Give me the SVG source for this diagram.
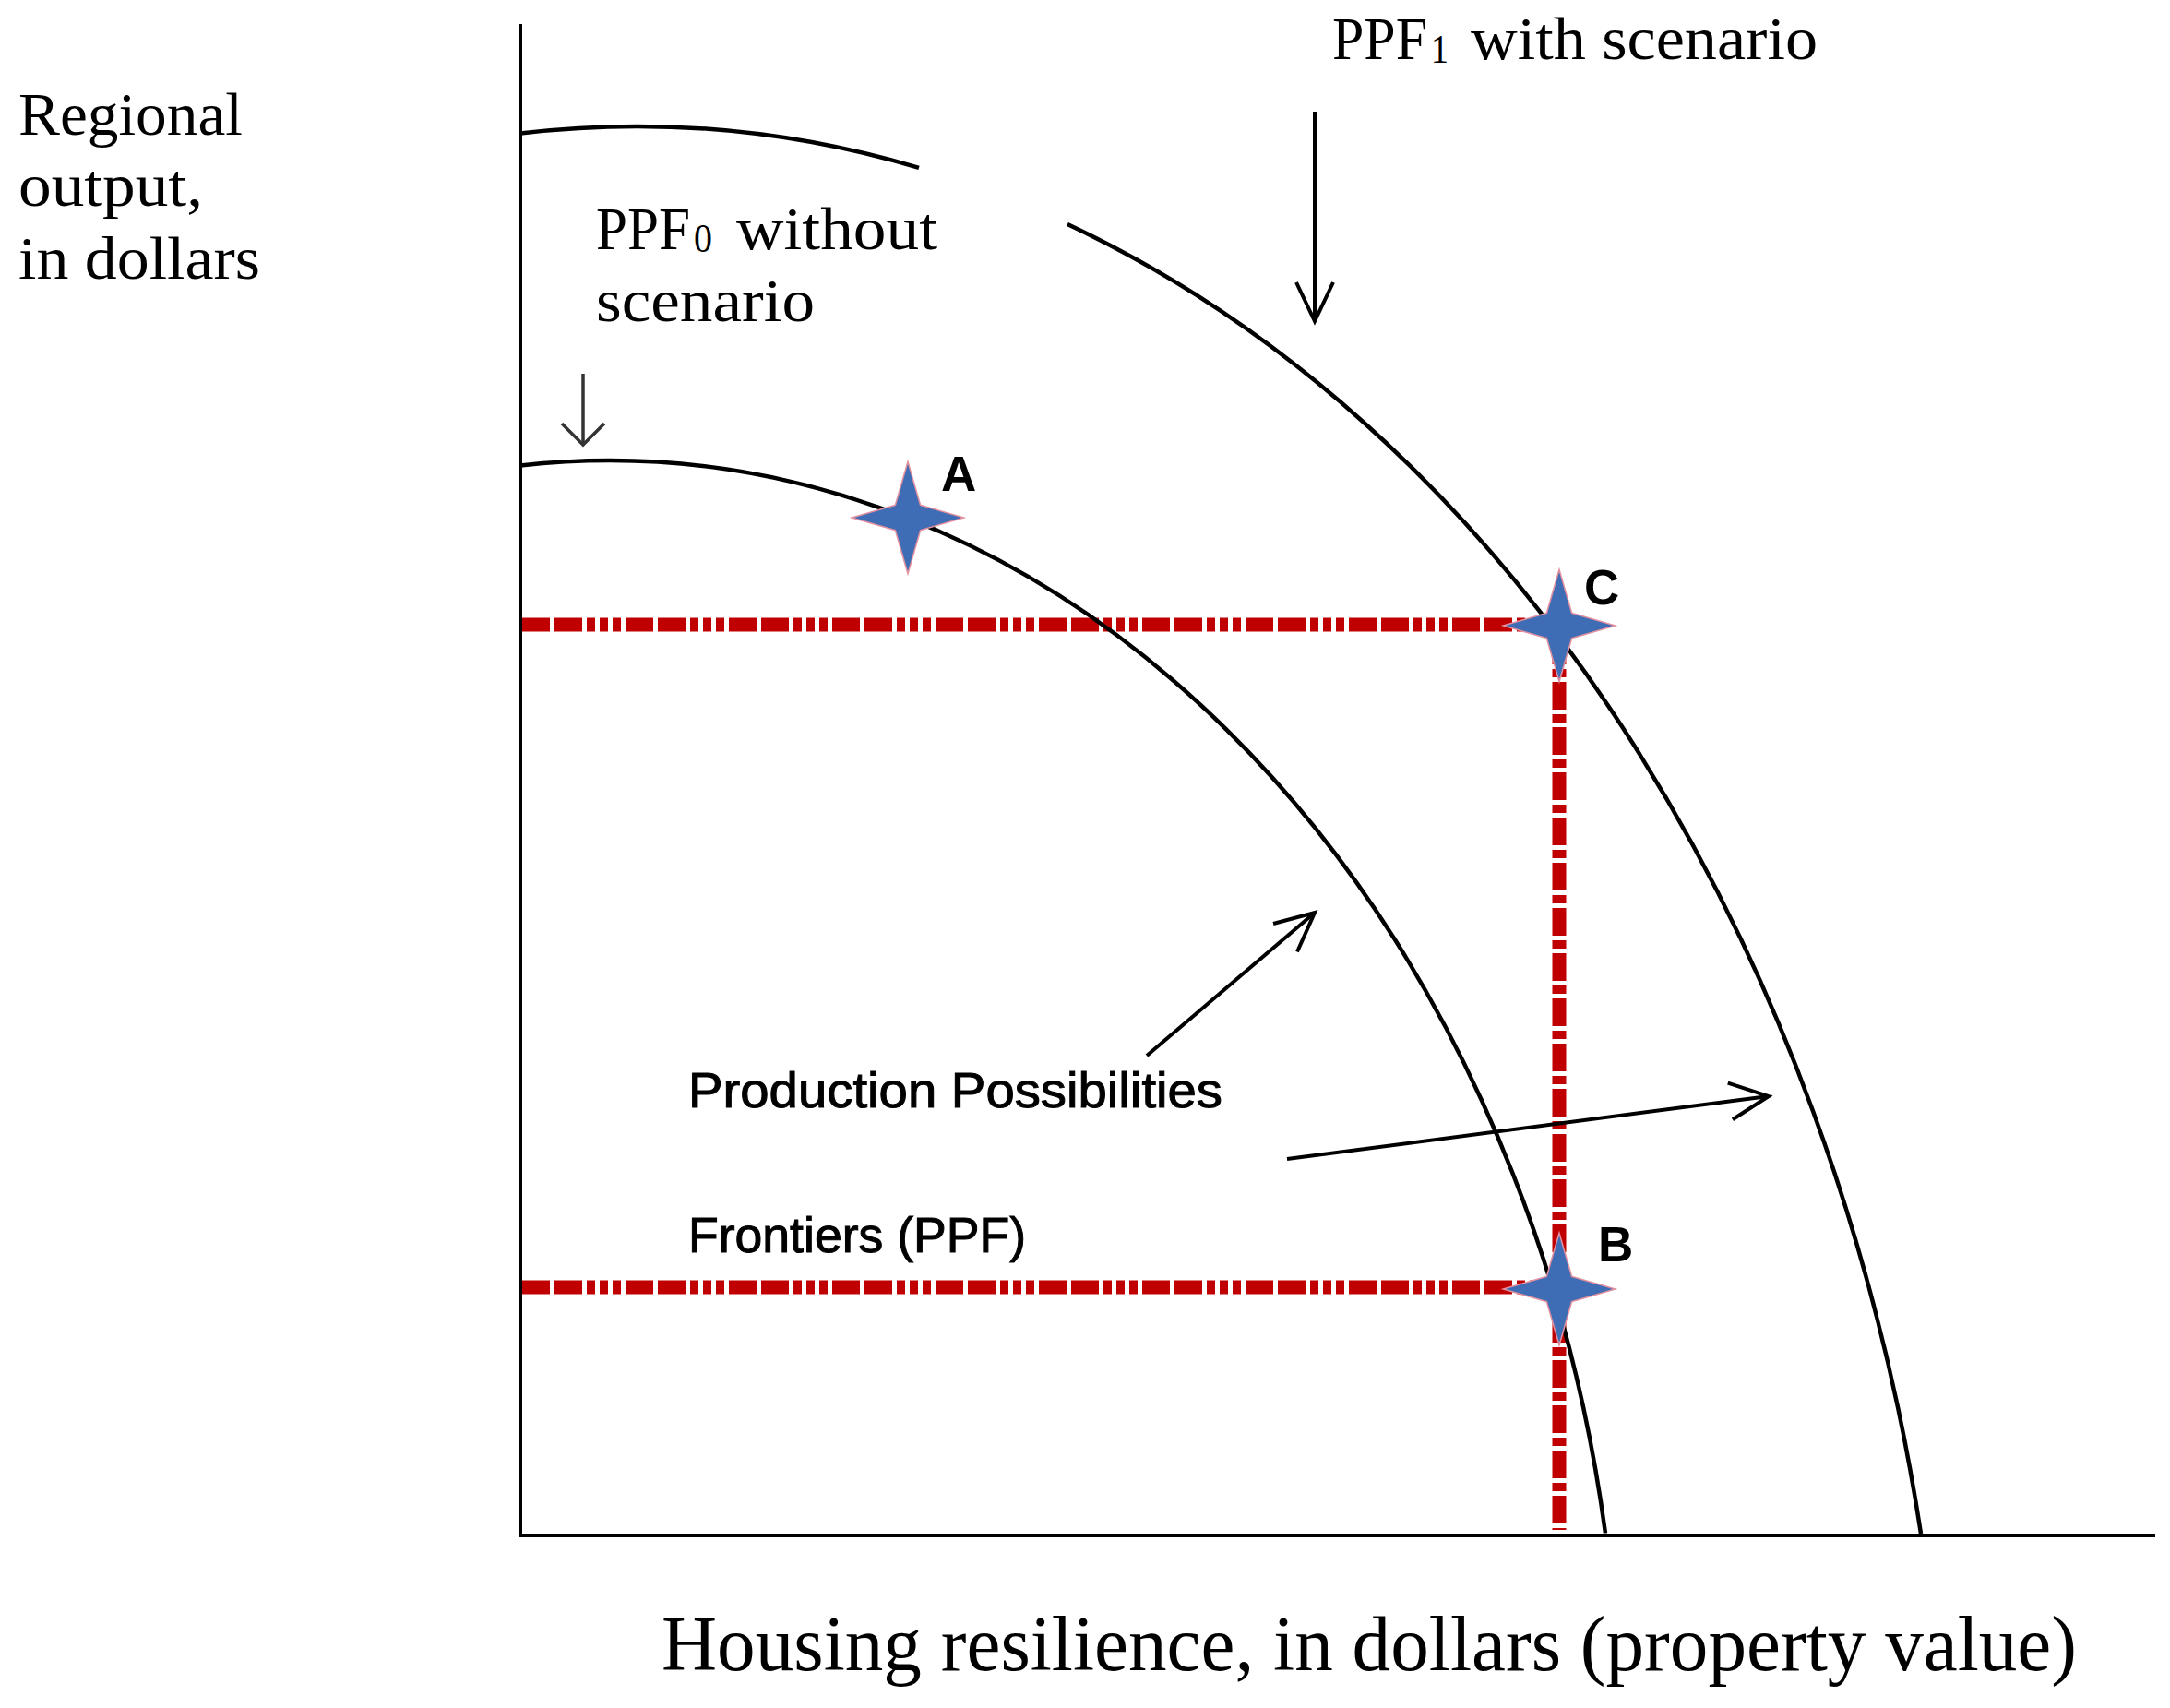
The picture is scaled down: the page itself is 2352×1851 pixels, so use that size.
<svg xmlns="http://www.w3.org/2000/svg" width="2352" height="1851" viewBox="0 0 2352 1851">
<style>
.serif{font-family:"Liberation Serif","Times New Roman",serif;fill:#000}
.sans{font-family:"Liberation Sans",Arial,sans-serif;fill:#000;stroke:#000;stroke-width:1}
.ax{stroke:#000;stroke-width:4;fill:none}
.curve{stroke:#000;stroke-width:4.5;fill:none}
.redh{stroke:#C00000;stroke-width:15;fill:none;stroke-dasharray:30 5 30 5 9 5 9 5 9 5}
.redv{stroke:#C00000;stroke-width:15;fill:none;stroke-dasharray:30 5 9 5}
.star{fill:#3E6DB5;stroke:#E2909F;stroke-width:3;paint-order:stroke;stroke-linejoin:miter}
.pt{font-family:"Liberation Sans",Arial,sans-serif;font-weight:bold;font-size:53px;fill:#000}
.arr{stroke:#000;stroke-width:4;fill:none}
</style>
<defs>
<marker id="ah" markerUnits="userSpaceOnUse" orient="auto" overflow="visible" markerWidth="1" markerHeight="1" refX="0" refY="0">
<path d="M-42,-20 L0,0 L-42,20" fill="none" stroke="#000" stroke-width="4"/>
</marker>
<marker id="ahs" markerUnits="userSpaceOnUse" orient="auto" overflow="visible" markerWidth="1" markerHeight="1" refX="0" refY="0">
<path d="M-23,-23 L0,0 L-23,23" fill="none" stroke="#333" stroke-width="3.5"/>
</marker>
<polygon id="star4" points="0,-58 13,-13 58,0 13,13 0,58 -13,13 -58,0 -13,-13"/>
</defs>
<rect width="2352" height="1851" fill="#fff"/>

<g id="axes">
<line class="ax" x1="564" y1="26" x2="564" y2="1666"/>
<line class="ax" x1="562" y1="1664" x2="2336" y2="1664"/>
</g>

<g id="guides">
<line class="redh" x1="566" y1="677" x2="1672" y2="677"/>
<line class="redh" x1="566" y1="1395" x2="1672" y2="1395"/>
<line class="redv" x1="1690" y1="690" x2="1690" y2="1658"/>
</g>

<g id="ppf0">
<path class="curve" d="M564,504.4 A1096,1401 0 0 1 1740,1661.5"/>
</g>

<g id="ppf1">
<path class="curve" d="M564,144.5 A1421.6,1913 0 0 1 996,181.9"/>
<path class="curve" d="M1157,243 A1421.6,1913 0 0 1 2082,1662"/>
</g>

<g id="point-A">
<use href="#star4" class="star" x="984" y="561"/>
<text class="pt" x="1020" y="532">A</text>
</g>
<g id="point-C">
<use href="#star4" class="star" x="1690" y="678"/>
<text class="pt" x="1717" y="655">C</text>
</g>
<g id="point-B">
<use href="#star4" class="star" x="1690" y="1397"/>
<text class="pt" x="1732" y="1367">B</text>
</g>

<g id="y-label">
<text class="serif" font-size="66" x="20" y="146" textLength="243" lengthAdjust="spacingAndGlyphs">Regional</text>
<text class="serif" font-size="66" x="20" y="223" textLength="200" lengthAdjust="spacingAndGlyphs">output,</text>
<text class="serif" font-size="66" x="20" y="302" textLength="262" lengthAdjust="spacingAndGlyphs">in dollars</text>
</g>

<g id="ppf0-label">
<text class="serif" font-size="66" x="646" y="270" textLength="102" lengthAdjust="spacingAndGlyphs">PPF</text>
<text class="serif" font-size="44" x="752" y="273" textLength="20" lengthAdjust="spacingAndGlyphs">0</text>
<text class="serif" font-size="66" x="798" y="270" textLength="218" lengthAdjust="spacingAndGlyphs">without</text>
<text class="serif" font-size="66" x="646" y="348" textLength="237" lengthAdjust="spacingAndGlyphs">scenario</text>
</g>

<g id="ppf1-label">
<text class="serif" font-size="66" x="1444" y="64" textLength="103" lengthAdjust="spacingAndGlyphs">PPF</text>
<text class="serif" font-size="44" x="1551" y="68" textLength="19" lengthAdjust="spacingAndGlyphs">1</text>
<text class="serif" font-size="66" x="1594" y="64" textLength="376" lengthAdjust="spacingAndGlyphs">with scenario</text>
</g>

<g id="ppf-label">
<text class="sans" font-size="53" x="746" y="1200" textLength="579" lengthAdjust="spacingAndGlyphs">Production Possibilities</text>
<text class="sans" font-size="53" x="746" y="1357" textLength="366" lengthAdjust="spacingAndGlyphs">Frontiers (PPF)</text>
</g>

<g id="x-label">
<text class="serif" font-size="85" x="717" y="1810" textLength="1534" lengthAdjust="spacingAndGlyphs">Housing resilience, in dollars (property value)</text>
</g>

<g id="connectors">
<line x1="632" y1="405" x2="632" y2="482" stroke="#333" stroke-width="3.5" marker-end="url(#ahs)"/>
<line class="arr" x1="1425" y1="121" x2="1425" y2="348" marker-end="url(#ah)"/>
<line class="arr" x1="1243" y1="1144" x2="1425" y2="989" marker-end="url(#ah)"/>
<line class="arr" stroke-width="5" x1="1395" y1="1256" x2="1917" y2="1188" marker-end="url(#ah)"/>
</g>
</svg>
